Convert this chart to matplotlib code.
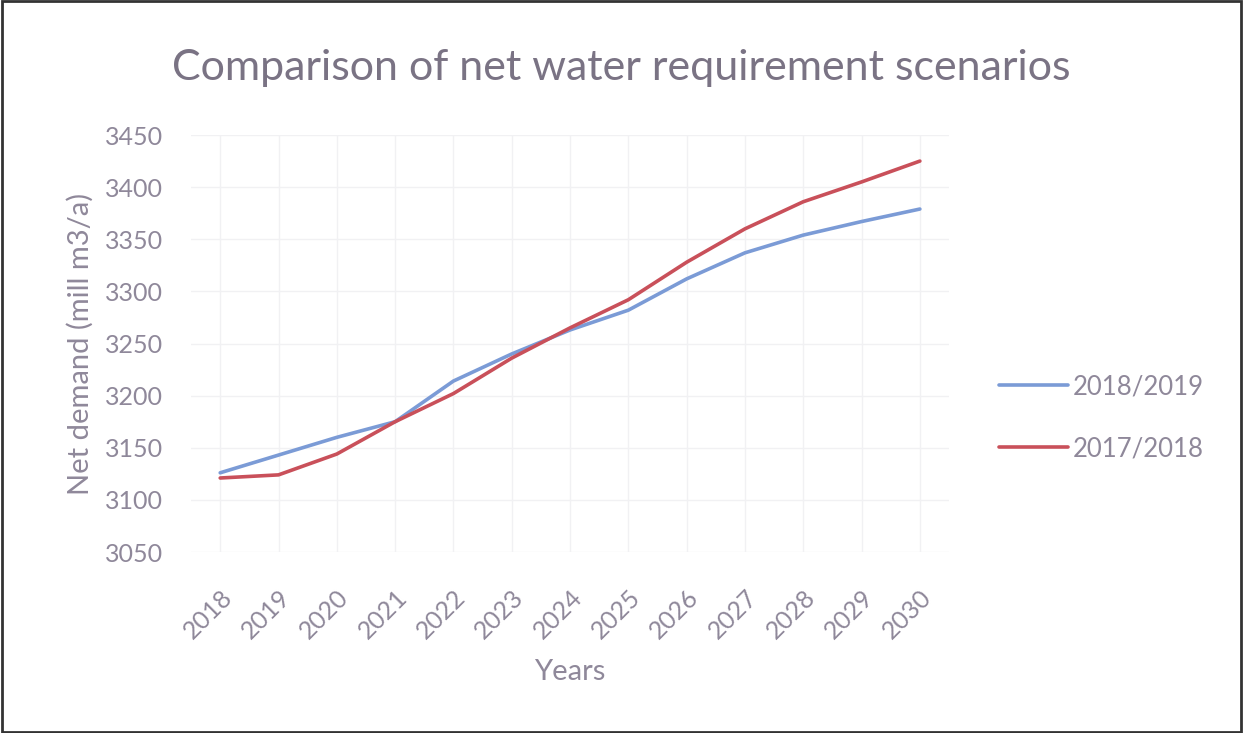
import matplotlib.pyplot as plt
from matplotlib.patches import Rectangle

years = ["2018", "2019", "2020", "2021", "2022", "2023", "2024",
         "2025", "2026", "2027", "2028", "2029", "2030"]
demand_2018_2019 = [3126, 3143, 3160, 3175, 3214, 3240, 3263,
                    3282, 3312, 3337, 3354, 3367, 3379]
demand_2017_2018 = [3121, 3124, 3144, 3175, 3202, 3236, 3265,
                    3292, 3328, 3360, 3386, 3405, 3425]

text_col = "#8f889a"
plt.rcParams["font.family"] = ["Lato", "DejaVu Sans"]

fig = plt.figure(figsize=(12.43, 7.33), dpi=100)
ax = fig.add_axes([0.1537, 0.2469, 0.6098, 0.5689])

x = range(len(years))
ax.plot(x, demand_2018_2019, color="#7b9bd6", lw=2.6, label="2018/2019",
        solid_capstyle="round")
ax.plot(x, demand_2017_2018, color="#c9505a", lw=2.6, label="2017/2018",
        solid_capstyle="round")

ax.set_xlim(-0.5, len(years) - 0.5)
ax.set_ylim(3050, 3450)
ax.set_yticks(range(3050, 3451, 50))
ax.set_xticks(list(x))
ax.set_xticklabels(years, rotation=45, ha="right", rotation_mode="anchor")
ax.tick_params(length=0, labelsize=18, colors=text_col)
ax.tick_params(axis="y", pad=20)
ax.tick_params(axis="x", pad=24)

for s in ax.spines.values():
    s.set_visible(False)
ax.grid(True, color="#f1f1f3", lw=1)
ax.set_axisbelow(True)

ax.set_xlabel("Years", fontsize=21, color=text_col, labelpad=12)
ax.set_ylabel("Net demand (mill m3/a)", fontsize=21, color=text_col, labelpad=8)
fig.text(0.4995, 0.907, "Comparison of net water requirement scenarios",
         ha="center", va="center", fontsize=31, color="#7a7384")

ax.legend(loc="center left", bbox_to_anchor=(1.036, 0.322), frameon=False,
          fontsize=18.5, labelcolor=text_col, handlelength=2.65,
          handletextpad=0.2, labelspacing=1.45)

fig.patches.append(Rectangle((0.002, 0.002), 0.996, 0.996, transform=fig.transFigure,
                             fill=False, edgecolor="#333333", lw=2))

fig.savefig("out.png", dpi=100)
